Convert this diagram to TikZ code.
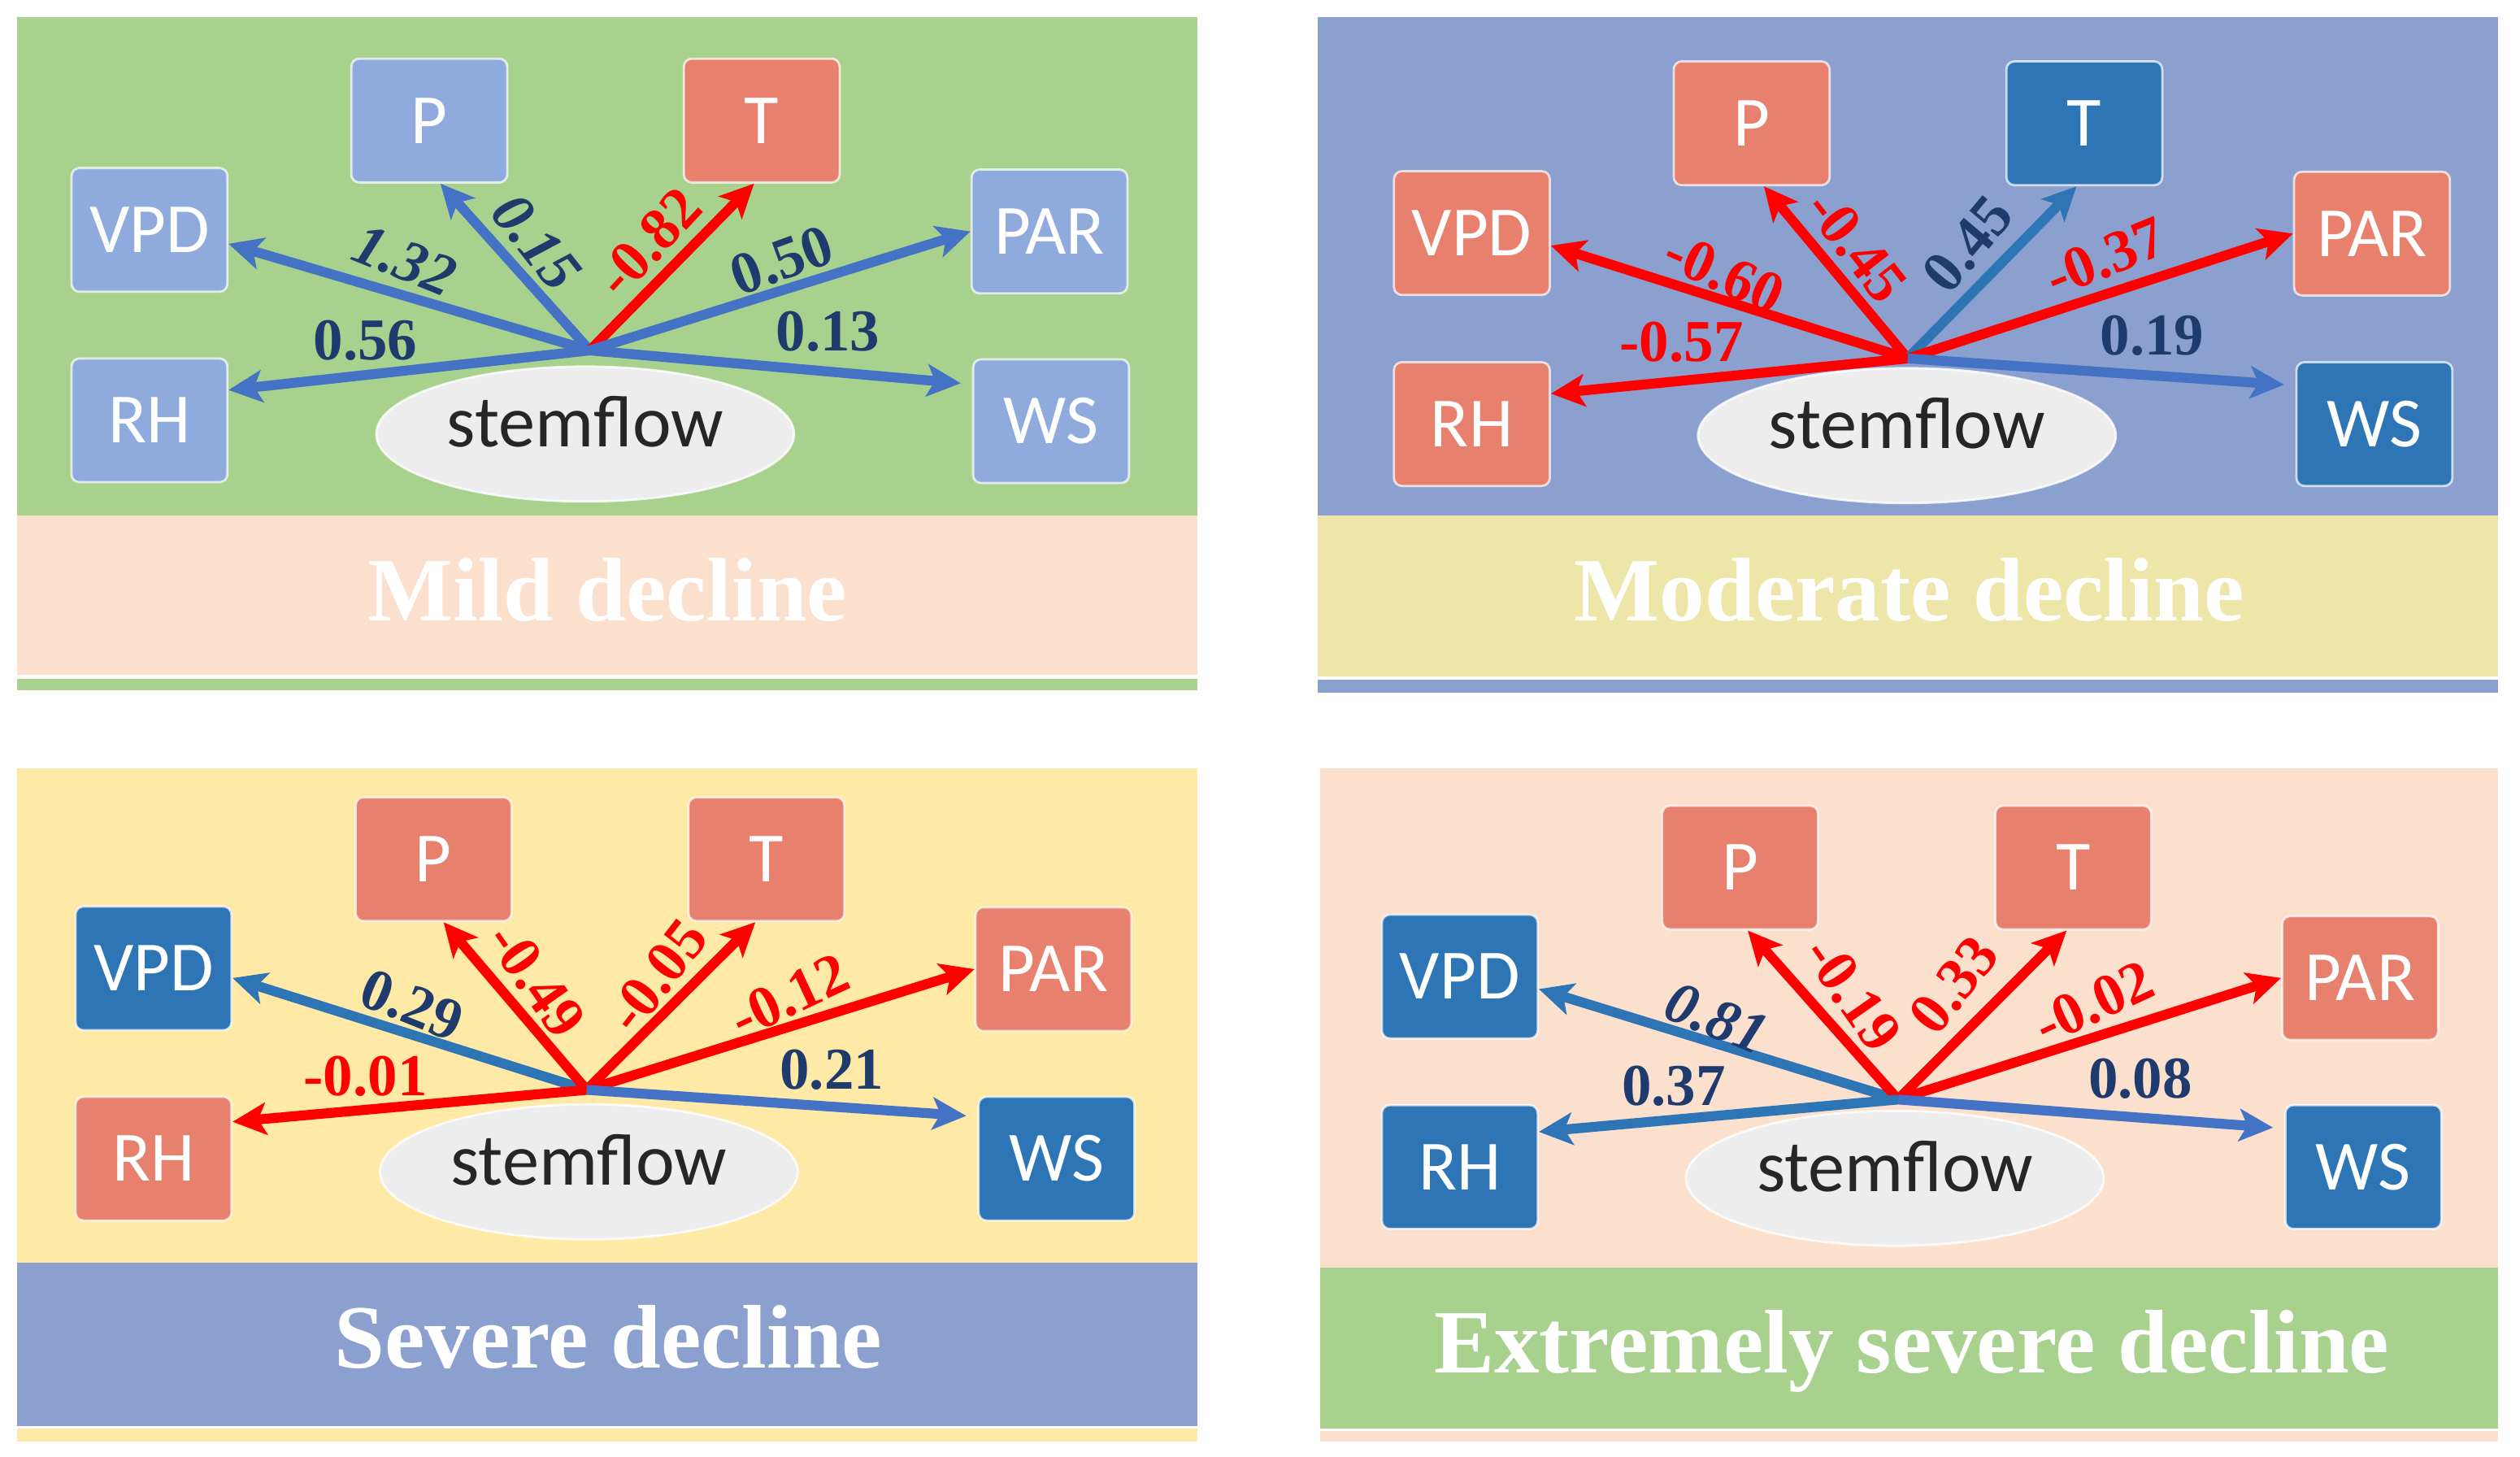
\documentclass[tikz,border=0pt]{standalone}
\usepackage{fontspec}
\setmainfont{Liberation Serif}
\newfontfamily\boxfont{Carlito}
\usetikzlibrary{arrows.meta,shapes.geometric}
\definecolor{bggreen}{HTML}{A9D18E}
\definecolor{bgblue}{HTML}{8BA0CF}
\definecolor{bgpeach}{HTML}{FBE0CE}
\definecolor{bgyellow}{HTML}{FFE9A6}
\definecolor{bandyellow}{HTML}{EEE6A8}
\definecolor{boxsalmon}{HTML}{E8806E}
\definecolor{boxlight}{HTML}{8FAADC}
\definecolor{boxdark}{HTML}{2E75B6}
\definecolor{arrred}{HTML}{FF0000}
\definecolor{arrblue}{HTML}{4472C4}
\definecolor{arrsteel}{HTML}{2E75B6}
\definecolor{navy}{HTML}{1F3A6D}
\definecolor{ellfill}{HTML}{EDEDED}
\definecolor{darktext}{HTML}{262626}
\tikzset{
  var/.style={rectangle, rounded corners=0.1cm, minimum width=1.94cm, minimum height=1.54cm,
    inner sep=0pt, draw=white, draw opacity=0.7, line width=0.8pt, text=white,
    font=\boxfont\fontsize{25}{30}\selectfont},
  vl/.style={var, fill=boxlight},
  vs/.style={var, fill=boxsalmon},
  vd/.style={var, fill=boxdark},
  ell/.style={ellipse, fill=ellfill, draw=white, draw opacity=0.8, line width=0.8pt,
    minimum width=5.2cm, minimum height=1.68cm, inner sep=0pt},
  elltext/.style={anchor=base, inner sep=0pt, text=darktext, font=\boxfont\fontsize{26}{30}\selectfont},
  conn/.style={line width=3.5pt, -{Stealth[length=0.42cm,width=0.40cm,inset=0.1cm]}},
  ab/.style={conn, draw=arrblue},
  ar/.style={conn, draw=arrred},
  as/.style={conn, draw=arrsteel},
  short/.style={shorten >=0.14cm},
  num/.style={inner sep=0pt, font=\bfseries\fontsize{21}{24}\selectfont},
  nb/.style={num, text=navy},
  nbi/.style={inner sep=0pt, text=navy, font=\bfseries\itshape\fontsize{21}{24}\selectfont},
  nr/.style={num, text=arrred},
  ttl/.style={anchor=base, inner sep=0pt, text=white, font=\bfseries\fontsize{32}{36}\selectfont},
}
\begin{document}
\begin{tikzpicture}[x=0.02cm, y=-0.02cm]
\fill[white] (0,0) rectangle (1568,906);
\useasboundingbox (0,0) rectangle (1568,906);
% ---------- backgrounds ----------
\fill[bggreen] (10.6,10.6) rectangle (745,320.5);
\fill[bgpeach] (10.6,320.5) rectangle (745,419.7);
\fill[bggreen] (10.6,422.5) rectangle (745,429.5);
\fill[bgblue] (820,10.6) rectangle (1554.5,320.5);
\fill[bandyellow] (820,320.5) rectangle (1554.5,421);
\fill[bgblue] (820,423) rectangle (1554.5,431);
\fill[bgyellow] (10.6,478.2) rectangle (745,785.5);
\fill[bgblue] (10.6,785.5) rectangle (745,887.3);
\fill[bgyellow] (10.6,888.7) rectangle (745,897);
\fill[bgpeach] (821.4,478) rectangle (1554.5,788.3);
\fill[bggreen] (821.4,788.3) rectangle (1554.5,888.7);
\fill[bgpeach] (821.4,890) rectangle (1554.5,897);
% ---------- panel 1: Mild decline ----------
\node[vl] (aP) at (267.1,75) {P};
\node[vs] (aT) at (474.0,75) {T};
\node[vl] (aVPD) at (93.0,143) {VPD};
\node[vl] (aPAR) at (653.0,144) {PAR};
\node[vl] (aRH) at (93.0,261.5) {RH};
\node[vl] (aWS) at (654.0,262) {WS};
\node[ell] (aE) at (364.1,270) {};
\node[elltext] (aEt) at (364.1,278) {stemflow};
\coordinate (aO) at (367,218);
\draw[ab] (aO) -- (aVPD.-10);
\draw[ab] (aO) -- (aP.-80);
\draw[ar] (aO) -- (aT.-97);
\draw[ab] (aO) -- (aPAR.west);
\draw[ab] (aO) -- (aRH.21);
\draw[ab, short] (aO) -- (aWS.155);
\node[nbi, rotate=-22] (aL1) at (251.7,162) {1.32};
\node[nbi, rotate=-52] (aL2) at (333.8,150.6) {0.15};
\node[nr, rotate=47] (aL3) at (403.8,150.6) {-0.82};
\node[nb, rotate=20] (aL4) at (486.4,162) {0.50};
\node[nb] (aL5) at (227.4,212) {0.56};
\node[nb] (aL6) at (515.2,206) {0.13};
\node[ttl] (aTitle) at (378,386.2) {Mild decline};
% ---------- panel 2: Moderate decline ----------
\node[vs] (bP) at (1089.9,76.7) {P};
\node[vd] (bT) at (1296.9,76.7) {T};
\node[vs] (bVPD) at (915.8,145) {VPD};
\node[vs] (bPAR) at (1475.9,145.3) {PAR};
\node[vs] (bRH) at (915.8,263.8) {RH};
\node[vd] (bWS) at (1477.4,263.8) {WS};
\node[ell] (bE) at (1186.5,271) {};
\node[elltext] (bEt) at (1186.5,279) {stemflow};
\coordinate (bO) at (1187,223);
\draw[ar] (bO) -- (bVPD.-9);
\draw[ar] (bO) -- (bP.-79);
\draw[as] (bO) -- (bT.-97);
\draw[ar] (bO) -- (bPAR.west);
\draw[ar] (bO) -- (bRH.21);
\draw[ab, short] (bO) -- (bWS.154);
\node[nr, rotate=-24] (bL1) at (1073.0,170) {-0.60};
\node[nr, rotate=-52] (bL2) at (1155.2,153) {-0.45};
\node[nb, rotate=50] (bL3) at (1224.4,152) {0.45};
\node[nr, rotate=22] (bL4) at (1310.0,160) {-0.37};
\node[nr] (bL5) at (1046.3,213) {-0.57};
\node[nb] (bL6) at (1339.1,209) {0.19};
\node[ttl] (bTitle) at (1188,386.2) {Moderate decline};
% ---------- panel 3: Severe decline ----------
\node[vs] (cP) at (269.8,534.5) {P};
\node[vs] (cT) at (476.9,534.5) {T};
\node[vd] (cVPD) at (95.5,602.4) {VPD};
\node[vs] (cPAR) at (655.5,602.9) {PAR};
\node[vs] (cRH) at (95.5,720.8) {RH};
\node[vd] (cWS) at (657.4,720.8) {WS};
\node[ell] (cE) at (366.4,729) {};
\node[elltext] (cEt) at (366.4,737) {stemflow};
\coordinate (cO) at (365,678);
\draw[as] (cO) -- (cVPD.-7);
\draw[ar] (cO) -- (cP.-81);
\draw[ar] (cO) -- (cT.-100);
\draw[ar] (cO) -- (cPAR.west);
\draw[ar] (cO) -- (cRH.25);
\draw[ab, short] (cO) -- (cWS.152);
\node[nb, rotate=-22] (cL1) at (256.4,625.2) {0.29};
\node[nr, rotate=-55] (cL2) at (333.8,609.8) {-0.49};
\node[nr, rotate=52] (cL3) at (408.8,607) {-0.05};
\node[nr, rotate=25] (cL4) at (491.1,619.6) {-0.12};
\node[nr] (cL5) at (227.4,669.8) {-0.01};
\node[nb] (cL6) at (517.6,665.6) {0.21};
\node[ttl] (cTitle) at (378.5,851) {Severe decline};
% ---------- panel 4: Extremely severe decline ----------
\node[vs] (dP) at (1082.7,539.7) {P};
\node[vs] (dT) at (1290.0,539.7) {T};
\node[vd] (dVPD) at (908.3,607.5) {VPD};
\node[vs] (dPAR) at (1468.5,608.4) {PAR};
\node[vd] (dRH) at (908.3,726) {RH};
\node[vd] (dWS) at (1470.5,726) {WS};
\node[ell] (dE) at (1179.0,733) {};
\node[elltext] (dEt) at (1179.0,741) {stemflow};
\coordinate (dO) at (1181,684);
\draw[as] (dO) -- (dVPD.-9);
\draw[ar] (dO) -- (dP.-83);
\draw[ar] (dO) -- (dT.-96);
\draw[ar] (dO) -- (dPAR.west);
\draw[as] (dO) -- (dRH.24);
\draw[ab, short] (dO) -- (dWS.154);
\node[nbi, rotate=-22] (dL1) at (1068.1,633.5) {0.81};
\node[nr, rotate=-55] (dL2) at (1152.8,618.2) {-0.19};
\node[nr, rotate=52] (dL3) at (1215.7,612.6) {0.33};
\node[nr, rotate=25] (dL4) at (1302.8,623.8) {-0.02};
\node[nb] (dL5) at (1041.5,675.4) {0.37};
\node[nb] (dL6) at (1331.8,671.2) {0.08};
\node[ttl] (dTitle) at (1189.5,853.8) {Extremely severe decline};
\end{tikzpicture}
\end{document}
